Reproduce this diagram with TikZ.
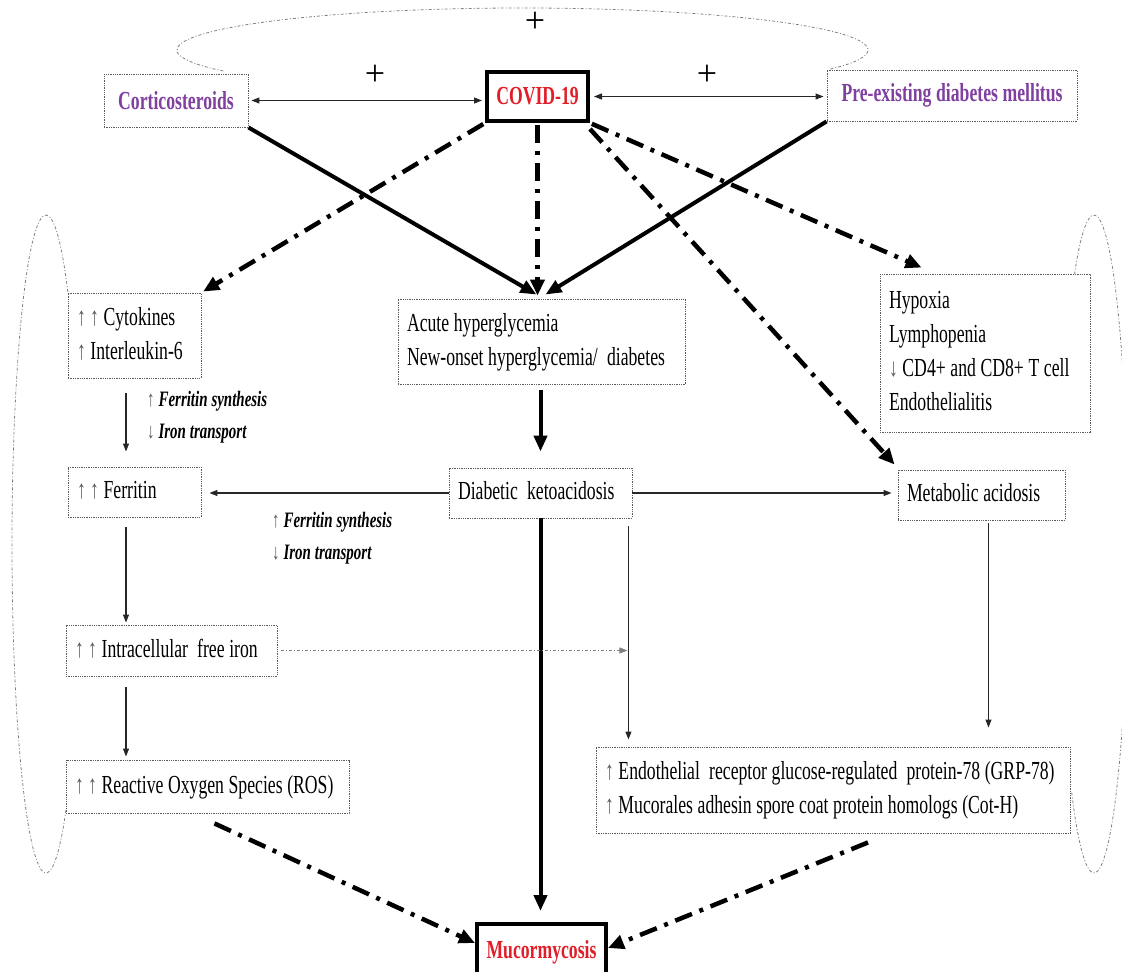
\documentclass[tikz,border=0pt]{standalone}
\usepackage{fontspec}
\setmainfont{Liberation Serif}[FakeStretch=0.68]
\newfontfamily\plusfont{Liberation Serif}
\usetikzlibrary{arrows.meta}
\definecolor{cpurple}{RGB}{128,64,160}
\definecolor{cred}{RGB}{225,30,40}
\definecolor{boxgray}{RGB}{90,90,90}
\newcommand{\upar}{{\normalfont\color{gray!70!black}↑}}
\newcommand{\dnar}{{\normalfont\color{gray!70!black}↓}}
\newcommand{\boxfont}{\fontsize{26}{34}\selectfont\spaceskip=4.6pt plus 1pt minus 1pt\relax}
\newcommand{\labfont}{\fontsize{22}{32}\selectfont\bfseries\itshape}
\newcommand{\mylines}[1]{{\spaceskip=0.177em plus 0.04em minus 0.03em\relax\xspaceskip=\spaceskip\begin{tabular}{@{}l@{}}#1\end{tabular}}}
\tikzset{
 box/.style={draw=boxgray, line width=0.9pt, dash pattern=on 1.3pt off 1pt, fill=white,
   inner xsep=9pt, inner ysep=0pt, font=\boxfont},
 keybox/.style={draw=black, line width=4pt, fill=white, font=\boxfont\bfseries,
   text=cred, inner sep=0pt},
 topbox/.style={draw=boxgray, line width=0.9pt, dash pattern=on 1.3pt off 1pt, fill=white,
   inner sep=0pt, font=\boxfont\bfseries, text=cpurple},
 thinarr/.style={draw=black!85, line width=1.1pt, -{Triangle[length=8pt,width=6pt]}},
 dblarr/.style={draw=black!85, line width=1.1pt, {Triangle[length=8pt,width=6pt]}-{Triangle[length=8pt,width=6pt]}},
 thickarr/.style={line width=4pt, -{Triangle[length=16pt,width=13pt]}},
 ddarr/.style={line width=4.5pt, dash pattern=on 18pt off 8pt on 4pt off 8pt, -{Triangle[length=16pt,width=14pt]}},
 dotarr/.style={draw=gray, line width=1pt, dash pattern=on 3pt off 2pt on 1pt off 2pt, -{Triangle[length=8pt,width=6pt]}},
 ell/.style={draw=gray, line width=0.8pt, dash pattern=on 3pt off 2pt on 1pt off 2pt},
 lab/.style={font=\labfont, inner sep=0pt},
 plus/.style={font=\plusfont\fontsize{36}{36}\selectfont, inner sep=0pt},
}
\begin{document}
\begin{tikzpicture}[x=1pt,y=-1pt]
\useasboundingbox (0,0) rectangle (1122,972);
% background ellipses
\draw[ell] (522.5,50) ++(210:345.5pt and 42pt) arc[start angle=210, end angle=-27, x radius=345.5pt, y radius=42pt];
\draw[ell] (46,544) ++(50:34pt and 329pt) arc[start angle=50, end angle=306, x radius=34pt, y radius=329pt];
\draw[ell] (1094,544) ++(125:34pt and 329pt) arc[start angle=125, end angle=-131, x radius=34pt, y radius=329pt];

% nodes
\node[topbox, minimum width=144pt, minimum height=53pt] (cort) at (176,100.5) {Corticosteroids};
\node[keybox, minimum width=101pt, minimum height=49pt] (covid) at (537.5,96.5) {COVID-19};
\node[topbox, minimum width=250pt, minimum height=51pt] (pre) at (952,95.5) {Pre-existing diabetes mellitus};
\node[box, text width=115pt, minimum height=85pt] (cyto) at (134.5,335.5) {\mylines{\upar\,\upar\ Cytokines\\\upar\ Interleukin-6}};
\node[box, text width=269pt, minimum height=85pt] (acute) at (541.5,341.5) {\mylines{Acute hyperglycemia\\New-onset hyperglycemia/\ \ diabetes}};
\node[box, text width=192pt, minimum height=158pt] (hyp) at (985,353) {\mylines{Hypoxia\\Lymphopenia\\\dnar\ CD4+ and CD8+ T cell\\Endothelialitis}};
\node[box, text width=115pt, minimum height=50pt] (ferr) at (134.5,492) {\mylines{\upar\,\upar\ Ferritin}};
\node[box, text width=165pt, minimum height=50pt] (dka) at (540.5,493) {\mylines{Diabetic\ \ ketoacidosis}};
\node[box, text width=149pt, minimum height=50pt] (meta) at (981.5,495) {\mylines{Metabolic acidosis}};
\node[box, text width=193pt, minimum height=51pt] (iron) at (171.5,650.5) {\mylines{\upar\,\upar\ Intracellular\ \ free iron}};
\node[box, text width=265pt, minimum height=53pt] (ros) at (207.5,786.5) {\mylines{\upar\,\upar\ Reactive Oxygen Species (ROS)}};
\node[box, text width=456pt, minimum height=86pt] (endo) at (833,790) {\mylines{\upar\ Endothelial\ \ receptor glucose-regulated\ \ protein-78 (GRP-78)\\\upar\ Mucorales adhesin spore coat protein homologs (Cot-H)}};
\node[keybox, minimum width=129pt, minimum height=56pt] (mucor) at (541.5,952) {Mucormycosis};

\node[lab, anchor=west] (lab1) at (147,416) {\mylines{\upar\ Ferritin synthesis\\\dnar\ Iron transport}};
\node[lab, anchor=west] (lab2) at (272,537.5) {\mylines{\upar\ Ferritin synthesis\\\dnar\ Iron transport}};

\node[plus] (p1) at (375,75) {+};
\node[plus] (p2) at (707,75) {+};
\node[plus] (p3) at (535,22) {+};

% connectors
\draw[dblarr, shorten <=3pt, shorten >=3pt] (cort.east) -- (cort.east -| covid.west);
\draw[dblarr, shorten <=4pt, shorten >=3pt] (covid.east) -- (covid.east -| pre.west);
\draw[thickarr] (cort.south east) -- ([xshift=-5pt,yshift=4pt]acute.north);
\draw[thickarr] (pre.south west) -- ([xshift=4pt,yshift=4pt]acute.north);
\draw[ddarr, shorten <=2pt] (covid.south) -- ([yshift=3pt]covid.south |- acute.north);
\draw[ddarr, shorten <=2pt, shorten >=2pt] (covid.south west) -- (cyto.north east);
\draw[ddarr, shorten <=2pt] (covid.south east) -- ([xshift=42pt,yshift=6pt]hyp.north west);
\draw[ddarr] ([yshift=-6pt]covid.south east) -- ([xshift=-3pt,yshift=5pt]meta.north west);

\draw[thinarr, shorten <=15pt, shorten >=15pt] ([xshift=-8.5pt]cyto.south) -- ([xshift=-8.5pt]ferr.north);
\draw[thickarr, shorten <=6pt, shorten >=16pt] (acute.south -| dka.north) -- (dka.north);
\draw[thinarr, shorten >=8pt] (dka.west) -- (dka.west -| ferr.east);
\draw[thinarr, shorten >=6pt] (dka.east) -- (dka.east -| meta.west);
\draw[thickarr, shorten >=11pt] (dka.south) -- (dka.south |- mucor.north);
\draw[thinarr, shorten <=10pt, shorten >=2pt] ([xshift=-8.5pt]ferr.south) -- ([xshift=-8.5pt]ferr.south |- iron.north);
\draw[thinarr, shorten <=11pt, shorten >=3pt] ([xshift=-8.5pt]ferr.south |- iron.south) -- ([xshift=-8.5pt]ferr.south |- ros.north);
\coordinate (dkaside) at ([xshift=-4pt,yshift=-8pt]dka.south east);
\draw[thinarr, shorten >=7pt] (dkaside) -- (dkaside |- endo.north);
\draw[dotarr, shorten <=4pt, shorten >=1pt] (iron.east) -- (iron.east -| dkaside);
\draw[thinarr, shorten <=3pt, shorten >=19pt] ([xshift=7pt]meta.south) -- ([xshift=7pt]meta.south |- endo.north);
\draw[ddarr] ([xshift=7pt,yshift=-10pt]ros.south) -- ([yshift=9pt]mucor.west);
\draw[ddarr] ([xshift=35pt,yshift=-9pt]endo.south) -- ([yshift=4pt]mucor.east);
\end{tikzpicture}
\end{document}
